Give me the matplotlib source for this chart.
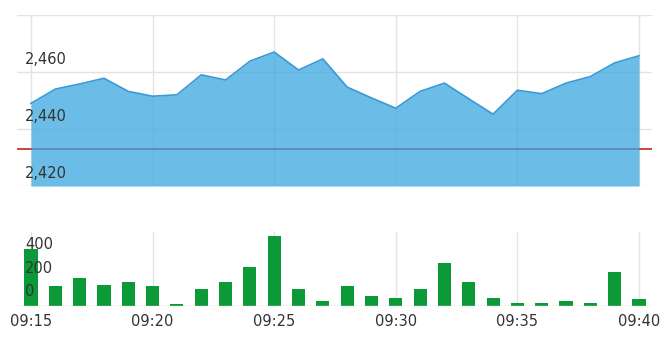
import numpy as np
import matplotlib.pyplot as plt
from matplotlib.transforms import blended_transform_factory

# minute-by-minute data, 09:15 .. 09:40
times = ["09:15", "09:16", "09:17", "09:18", "09:19", "09:20", "09:21", "09:22",
         "09:23", "09:24", "09:25", "09:26", "09:27", "09:28", "09:29", "09:30",
         "09:31", "09:32", "09:33", "09:34", "09:35", "09:36", "09:37", "09:38",
         "09:39", "09:40"]
price = [2449.0, 2454.0, 2455.8, 2457.8, 2453.2, 2451.5, 2452.0, 2459.0,
         2457.2, 2463.8, 2467.0, 2460.7, 2464.6, 2454.7, 2450.9, 2447.3,
         2453.2, 2456.1, 2450.6, 2445.2, 2453.6, 2452.4, 2456.1, 2458.4,
         2463.2, 2465.7]
volume = [478, 164, 233, 178, 200, 164, 19, 144, 200, 325, 583, 144, 42,
          164, 86, 67, 144, 358, 200, 64, 22, 22, 44, 22, 281, 56]
prev_close = 2433.1

price_ticks = [2420, 2440, 2460, 2480]
price_labels = ["2,420", "2,440", "2,460"]
vol_ticks = [0, 200, 400]
xtick_pos = [0, 5, 10, 15, 20, 25]

W, H = 666, 356
fig = plt.figure(figsize=(W / 100, H / 100), dpi=100)

x = np.arange(len(times))
left_px, right_px = 17, 652
px_per_min = (639 - 31) / 25
xlim = (-(31 - left_px) / px_per_min, 25 + (right_px - 639) / px_per_min)

def box(top, bottom):
    return [left_px / W, 1 - bottom / H, (right_px - left_px) / W, (bottom - top) / H]

grid_c = "#e3e3e3"
text_c = "#333333"
fs = 10.5

# price chart
ax = fig.add_axes(box(15, 186))
ax.set_xlim(*xlim)
ax.set_ylim(2420, 2480)
for v in price_ticks:
    ax.axhline(v, color=grid_c, lw=1, zorder=0)
for p in xtick_pos:
    ax.axvline(p, color=grid_c, lw=1, zorder=0)
ax.axhline(prev_close, color="#c0392b", lw=1.3, zorder=1)
ax.fill_between(x, price, 2420, color="#3aa6e0", alpha=0.75, lw=0, zorder=2)
ax.plot(x, price, color="#3a98d6", lw=1.2, zorder=3)
ax.set_xticks([])
ax.set_yticks([])
for s in ax.spines.values():
    s.set_visible(False)
tr = blended_transform_factory(ax.transAxes, ax.transData)
for v, lab in zip(price_ticks, price_labels):
    ax.annotate(lab, xy=(8 / (right_px - left_px), v), xycoords=tr,
                xytext=(0, 13), textcoords="offset pixels", va="center",
                ha="left", fontsize=fs, color=text_c, zorder=5,
                annotation_clip=False)

# volume chart
bx = fig.add_axes(box(232, 306))
bx.set_xlim(*xlim)
bx.set_ylim(0, 617)
for p in xtick_pos:
    bx.axvline(p, color=grid_c, lw=1, zorder=0)
bx.bar(x, volume, width=0.54, color="#0c9a38", zorder=2)
bx.axhline(0, color="#cfcfcf", lw=1, zorder=3)
bx.set_yticks([])
bx.set_xticks(xtick_pos)
bx.set_xticklabels([times[p] for p in xtick_pos], fontsize=fs, color=text_c)
bx.tick_params(axis="x", length=0, pad=6)
for s in bx.spines.values():
    s.set_visible(False)
tr2 = blended_transform_factory(bx.transAxes, bx.transData)
for v in vol_ticks:
    bx.annotate(str(v), xy=(8 / (right_px - left_px), v), xycoords=tr2,
                xytext=(0, 14), textcoords="offset pixels", va="center",
                ha="left", fontsize=fs, color=text_c, zorder=5,
                annotation_clip=False)

fig.savefig("out.png", dpi=100)
